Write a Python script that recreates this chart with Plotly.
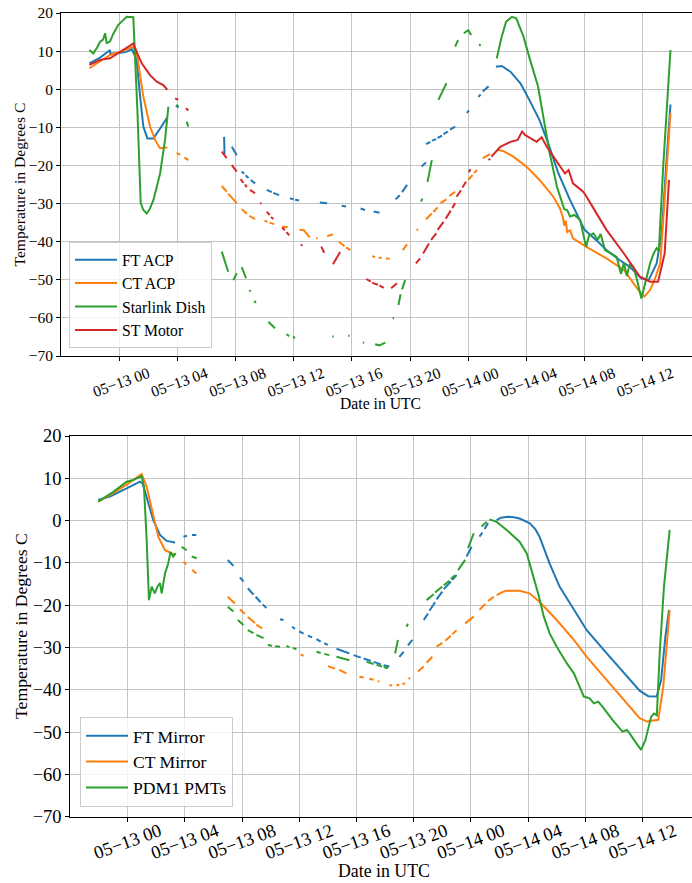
import pandas as pd
import plotly.graph_objects as go

N = None
BASE = pd.Timestamp("2023-05-13 00:00")

# ---------------- top panel data (hours after 05-13 00 UTC, degrees C) -------------
ft_acp_h = [-2.04, -1.3, -0.62, -0.6, 0.1, 0.5, 0.87, 1.2, 1.45, 1.67, 1.95, 2.36, 2.82, 3.32, N,
            3.9, 4.1, N, 7.22, 7.25, N, 7.75, 8.09, N, 8.43, 8.6, N, 8.7, 8.9, N, 9.05, 9.35, N,
            10.15, 10.5, N, 10.6, 11.0, N, 11.75, 12.0, N, 12.1, 12.37, N, 13.8, 14.3, N, 15.3, 15.6, N,
            16.6, 16.9, N, 17.5, 17.9, N, 19.0, 19.3, N, 19.45, 19.8, N, 20.8, 21.1, N,
            21.1, 21.4, N, 21.5, 21.8, N, 21.9, 22.2, N, 22.3, 22.6, N, 22.75, 23.1, N, 23.9, 24.05, N,
            24.7, 24.85, N, 25.0, 25.4, N,
            25.9, 26.3, 26.9, 27.6, 28.2, 28.9, 29.5, 30.2, 31.0, 31.7, 32.0, 32.8, 33.5, 34.4, 35.1,
            35.9, 36.4, 36.95, 37.3, 37.6, 37.9]
ft_acp_t = [6.8, 8.3, 10.3, 9.3, 9.6, 9.8, 10.5, 8.0, -2.0, -9.8, -12.9, -12.9, -10.3, -7.4, N,
            -4.3, -4.8, N, -12.5, -17.0, N, -15.1, -17.3, N, -21.6, -22.2, N, -22.6, -23.3, N, -23.8, -24.7, N,
            -26.4, -27.0, N, -27.2, -27.8, N, -28.6, -28.9, N, -29.0, -29.2, N, -29.7, -29.9, N, -30.6, -30.8, N,
            -31.3, -31.7, N, -32.1, -32.4, N, -28.9, -27.8, N, -27.0, -25.1, N, -20.3, -19.2, N,
            -14.4, -13.8, N, -13.5, -13.1, N, -12.8, -12.2, N, -11.8, -11.1, N, -10.6, -9.8, N, -6.2, -5.6, N,
            -2.0, -1.4, N, -0.6, 0.8, N,
            5.9, 6.1, 4.6, 1.5, -2.8, -8.1, -14.2, -22.1, -29.1, -34.3, -36.9, -39.6, -42.2, -44.8, -46.6,
            -49.6, -50.1, -45.7, -37.7, -20.3, -4.0]

ct_acp_h = [-2.04, -1.3, -0.62, 0.07, 0.6, 0.98, 1.26, 1.67, 2.13, 2.5, 2.82, 3.32, N,
            3.96, 4.2, N, 4.5, 4.76, N, 7.06, 7.4, N, 7.5, 8.09, N, 8.43, 8.8, N, 8.95, 9.35, N,
            10.0, 10.2, N, 10.35, 10.65, N, 11.2, 11.6, N, 12.4, 12.7, 13.1, N, 13.55, 13.65, N,
            14.3, 14.7, N, 15.1, 15.5, N, 15.6, 15.9, N, 17.4, 17.6, N, 17.85, 18.05, N, 18.35, 18.6, N,
            19.5, 19.8, N, 20.45, 20.55, N, 21.1, 21.5, N, 21.6, 21.9, N, 22.1, 22.5, N, 22.7, 23.1, N,
            24.0, 24.3, N, 24.4, 24.6, N, 25.0, 25.5, N,
            25.96, 26.4, 27.1, 28.0, 28.9, 29.85, 30.3, 30.5, 30.6, 30.7, 30.8, 31.0, 31.2, 32.1, 33.5,
            34.7, 35.7, 36.1, 36.5, 36.8, 37.2, 37.5, 37.9]
ct_acp_t = [5.5, 7.3, 9.0, 9.8, 10.5, 11.2, 8.5, -2.0, -9.8, -13.5, -15.5, -15.3, N,
            -16.7, -17.2, N, -17.9, -18.6, N, -25.4, -26.9, N, -27.4, -29.9, N, -31.5, -32.7, N, -33.2, -34.1, N,
            -34.5, -34.8, N, -35.0, -35.4, N, -36.1, -36.2, N, -36.9, -37.0, -38.9, N, -39.1, -39.1, N,
            -38.5, -38.1, N, -40.0, -41.2, N, -41.5, -42.2, N, -43.8, -44.0, N, -44.2, -44.3, N, -44.4, -44.5, N,
            -42.2, -40.7, N, -37.0, -36.7, N, -34.1, -32.6, N, -32.2, -31.0, N, -29.9, -28.9, N, -28.0, -26.9, N,
            -23.8, -22.5, N, -22.0, -21.2, N, -18.1, -17.0, N,
            -15.9, -16.2, -17.7, -20.3, -23.8, -28.2, -31.2, -33.5, -35.8, -34.5, -37.5, -37.0, -39.1, -41.3, -44.4,
            -47.4, -52.7, -54.4, -52.7, -50.1, -45.7, -29.1, -6.3]

starlink_h = [-2.04, -1.9, -1.77, -1.5, -1.3, -1.1, -0.96, -0.85, -0.62, -0.4, -0.27, -0.05, 0.3, 0.53,
              0.98, 1.1, 1.26, 1.49, 1.67, 1.9, 2.1, 2.36, 2.82, 3.16, 3.39, N,
              3.96, 4.07, N, 4.65, 4.76, N, 7.06, 7.5, N, 7.86, 8.09, N, 8.43, 8.73, N, 8.95, 9.05, N,
              9.3, 9.4, N, 10.26, 10.72, N, 11.5, 11.7, N, 11.95, 12.1, N, 14.65, 14.75, N, 15.75, 15.85, N,
              16.75, 16.85, N, 17.6, 17.9, 18.3, N, 18.8, 18.9, N, 19.2, 19.35, N, 19.45, 19.66, N,
              20.75, 20.85, N, 21.2, 21.5, N, 21.95, 22.5, N, 23.1, 23.3, N, 23.7, 24.0, 24.2, N,
              24.75, 24.85, N,
              25.96, 26.3, 26.6, 27.0, 27.3, 27.8, 28.25, 28.5, 28.8, 29.2, 29.6, 30.1, 30.4, 30.6, 30.8,
              31.0, 31.3, 31.7, 31.9, 32.1, 32.3, 32.6, 32.9, 33.1, 33.4, 33.8, 34.2, 34.5, 34.7, 34.9,
              35.1, 35.35, 35.6, 35.9, 36.15, 36.5, 36.75, 36.95, 37.1, 37.4, 37.9]
starlink_t = [10.3, 9.8, 9.4, 11.0, 12.5, 13.0, 14.7, 12.1, 12.5, 14.5, 15.5, 16.9, 18.2, 19.0,
              18.9, 10.0, -5.5, -29.9, -31.7, -32.6, -31.5, -29.1, -22.1, -13.3, -4.6, N,
              -4.0, -4.6, N, -8.5, -9.8, N, -42.6, -47.9, N, -50.1, -48.3, N, -46.7, -49.6, N, -52.7, -53.1, N,
              -55.5, -56.1, N, -61.0, -62.7, N, -64.3, -64.8, N, -65.0, -65.2, N, -64.9, -64.9, N, -64.7, -64.7, N,
              -66.5, -66.5, N, -66.9, -67.2, -66.5, N, -60.1, -60.1, N, -56.6, -53.8, N, -52.5, -50.1, N,
              -29.5, -28.7, N, -24.3, -18.6, N, -2.8, 1.6, N, 11.2, 12.9, N, 14.7, 15.5, 14.2, N,
              11.8, 11.4, N,
              8.1, 13.8, 17.7, 19.0, 18.6, 13.8, 7.7, 4.5, 0.7, -8.1, -16.8, -25.6, -29.0, -31.5, -31.7,
              -33.4, -33.0, -34.3, -38.0, -41.3, -38.5, -37.8, -39.5, -38.0, -42.2, -43.0, -44.0, -48.5, -45.5, -49.0,
              -46.0, -46.6, -50.0, -54.9, -50.9, -45.7, -43.0, -41.7, -42.5, -20.3, 10.3]

st_motor_h = [-2.04, -1.3, -0.62, 0.07, 0.6, 0.98, 1.3, 1.56, 2.13, 2.59, 3.04, 3.32, N,
              3.85, 4.07, N, 4.6, 4.76, N, 7.06, 7.4, N, 7.75, 8.09, N, 8.36, 8.55, N, 8.65, 8.78, N,
              9.0, 9.35, N, 9.7, 9.78, N, 10.15, 10.35, N, 10.45, 10.6, N, 11.2, 11.4, N, 11.5, 11.7, N,
              12.5, 12.6, N, 13.9, 14.1, N, 14.7, 15.2, N, 17.0, 17.3, N, 17.4, 17.8, N, 17.9, 18.2, N,
              18.7, 19.1, N, 20.4, 20.7, N, 20.9, 21.3, N, 21.45, 21.8, N, 21.9, 22.3, N, 22.45, 22.8, N,
              22.9, 23.1, N, 23.2, 23.5, N, 23.6, 23.85, N, 24.05, 24.15, N, 25.4, 25.5, N,
              25.6, 26.2, 26.9, 27.4, 27.7, 27.9, 28.7, 29.05, 29.4, 30.1, 30.65, 30.9, 31.2, 31.9, 32.1,
              32.6, 33.5, 34.7, 35.8, 36.5, 37.05, 37.5, 37.8]
st_motor_t = [6.4, 7.7, 8.1, 9.8, 11.0, 12.0, 9.0, 6.8, 3.7, 2.0, 1.1, -0.2, N,
              -2.4, -2.8, N, -5.0, -5.6, N, -16.4, -18.1, N, -19.9, -21.6, N, -23.6, -24.6, N, -25.0, -25.7, N,
              -26.4, -27.3, N, -29.8, -30.0, N, -32.1, -33.0, N, -33.5, -34.1, N, -36.3, -37.0, N, -37.5, -38.3, N,
              -40.7, -41.1, N, -41.3, -42.9, N, -45.9, -42.7, N, -49.8, -50.5, N, -50.8, -51.3, N, -51.5, -52.1, N,
              -52.2, -50.9, N, -45.7, -44.4, N, -43.1, -40.5, N, -39.5, -37.8, N, -36.9, -34.8, N, -34.0, -31.8, N,
              -31.2, -29.9, N, -28.2, -26.5, N, -25.8, -24.3, N, -21.8, -21.0, N, -18.6, -18.2, N,
              -17.7, -15.1, -13.8, -13.3, -11.1, -12.0, -13.8, -12.6, -15.1, -19.0, -22.1, -21.2, -24.7, -26.9, -28.0,
              -31.2, -36.9, -43.1, -49.2, -50.5, -50.5, -43.1, -23.8]

# ---------------- bottom panel data -------------
ft_mirror_h = [-2.06, -1.24, -0.07, 0.86, 1.05, 1.44, 1.79, 2.26, 2.73, 3.31, N,
               3.9, 4.15, N, 4.5, 4.8, N, 7.0, 7.4, N, 7.85, 8.1, N, 8.4, 8.8, N, 8.95, 9.3, N, 9.45, 9.7, N,
               10.65, 10.9, N, 11.5, 11.7, N, 12.0, 12.3, N, 12.6, 12.9, N, 13.2, 13.5, N, 13.75, 14.0, N,
               14.6, 15.5, N, 15.8, 16.3, N, 16.5, 17.0, N, 17.2, 17.7, N, 17.9, 18.3, N,
               19.0, 19.3, N, 19.6, 19.9, N, 20.7, 21.0, N, 21.1, 21.5, N, 21.6, 22.0, N, 22.1, 22.6, N,
               22.7, 23.0, N, 23.7, 24.05, N, 24.6, 24.8, N, 24.95, 25.2, N,
               25.8, 26.1, 26.6, 27.0, 27.4, 28.1, 28.5, 28.8, 29.1, 29.5, 30.2, 31.2, 32.1, 33.5, 34.9,
               35.8, 36.4, 36.99, 37.3, 37.6, 37.85]
ft_mirror_t = [4.9, 5.7, 7.6, 9.2, 8.8, 4.1, 0.1, -3.4, -4.8, -5.2, N,
               -3.8, -3.6, N, -3.4, -3.4, N, -9.3, -10.7, N, -13.4, -14.4, N, -16.0, -17.5, N, -18.0, -19.3, N, -19.8, -20.7, N,
               -23.3, -23.5, N, -25.1, -25.6, N, -26.2, -26.7, N, -27.2, -27.6, N, -28.0, -28.6, N, -29.0, -29.4, N,
               -30.3, -31.4, N, -31.8, -32.4, N, -32.6, -33.2, N, -33.4, -34.0, N, -34.2, -34.5, N,
               -32.2, -31.0, N, -29.5, -28.2, N, -23.5, -22.0, N, -21.3, -19.3, N, -18.6, -16.8, N, -16.2, -14.4, N,
               -14.0, -12.9, N, -8.5, -6.2, N, -3.8, -2.8, N, -2.0, -0.6, N,
               0.1, 0.7, 0.9, 0.8, 0.5, -0.6, -2.0, -3.8, -6.5, -10.1, -15.6, -21.1, -25.9, -31.4, -36.9,
               -40.2, -41.5, -41.6, -37.7, -27.4, -21.1]

ct_mirror_h = [-2.06, -1.0, 0.05, 0.5, 0.98, 1.33, 1.79, 2.14, 2.61, 3.31, N,
               3.9, 4.1, N, 4.5, 4.8, N, 7.0, 7.5, N, 7.85, 8.2, N, 8.4, 8.9, N, 9.0, 9.4, N,
               12.1, 12.3, N, 14.0, 14.5, N, 14.8, 15.3, N, 16.2, 16.5, N, 16.9, 17.2, N, 17.5, 17.6, N,
               18.3, 18.5, N, 18.8, 19.0, N, 19.2, 19.4, N, 19.65, 19.75, N, 20.3, 20.7, N, 20.9, 21.3, N,
               21.6, 22.0, N, 22.2, 22.6, N, 22.7, 23.0, N, 23.6, 24.2, N, 24.6, 25.0, N, 25.2, 25.6, N,
               25.8, 26.2, 26.5, 27.4, 28.1, 28.8, 30.0, 31.2, 32.1, 33.5, 34.9, 35.8, 36.3, 37.1, 37.45,
               37.7, 37.9]
ct_mirror_t = [4.5, 6.5, 8.8, 9.8, 11.0, 8.0, 0.9, -3.8, -7.0, -8.1, N,
               -9.7, -10.3, N, -11.6, -12.5, N, -18.0, -19.6, N, -21.0, -22.0, N, -22.8, -24.2, N, -24.6, -25.5, N,
               -31.6, -32.0, N, -34.4, -35.0, N, -35.3, -36.1, N, -36.9, -37.1, N, -37.4, -37.6, N, -37.9, -38.1, N,
               -38.9, -39.0, N, -38.9, -38.8, N, -38.6, -38.5, N, -37.5, -37.1, N, -35.7, -34.5, N, -33.6, -32.2, N,
               -29.8, -28.9, N, -28.4, -27.2, N, -26.9, -25.9, N, -24.3, -22.7, N, -21.1, -19.7, N, -19.0, -18.0, N,
               -17.6, -16.9, -16.6, -16.6, -17.2, -19.2, -23.5, -28.2, -32.2, -37.7, -43.2, -46.7, -47.5, -47.1, -39.3,
               -29.8, -21.1]

pdm1_h = [-2.06, -1.0, -0.07, 0.39, 0.98, 1.14, 1.33, 1.49, 1.68, 1.9, 2.1, 2.26, 2.38, 2.61, 2.84,
          3.0, 3.19, 3.36, N, 3.78, 4.13, N, 4.48, 4.83, N, 7.0, 7.4, N, 7.7, 8.1, N, 8.4, 8.8, N,
          9.0, 9.5, N, 9.8, 10.1, N, 10.3, 10.65, N, 11.1, 11.3, N, 11.55, 11.8, N, 13.2, 13.5, N,
          13.75, 14.1, N, 14.6, 15.5, N, 16.7, 17.2, N, 17.4, 17.8, N, 17.9, 18.2, N, 18.7, 18.9, N,
          19.5, 19.6, N, 20.9, 21.4, N, 21.5, 22.0, N, 22.1, 22.5, N, 22.6, 22.9, N, 23.1, 23.6, N,
          23.8, 24.2, N, 24.75, 25.1, N,
          25.3, 25.8, 26.5, 27.0, 27.4, 27.9, 28.25, 28.7, 29.1, 29.5, 30.0, 30.4, 30.7, 31.2, 31.6,
          31.9, 32.3, 32.6, 32.9, 33.2, 33.9, 34.3, 34.6, 34.9, 35.1, 35.5, 35.9, 36.2, 36.6, 36.8,
          37.0, 37.2, 37.5, 37.9]
pdm1_t = [4.5, 6.8, 9.2, 9.6, 10.5, 8.0, -4.6, -18.8, -15.6, -17.2, -15.5, -14.8, -17.2, -12.5, -10.1,
          -7.4, -8.5, -7.7, N, -6.2, -7.0, N, -8.5, -8.9, N, -20.4, -21.5, N, -23.5, -24.7, N, -25.9, -26.6, N,
          -27.0, -27.8, N, -29.4, -29.6, N, -29.7, -29.8, N, -29.6, -29.9, N, -30.1, -30.4, N, -31.0, -31.3, N,
          -31.5, -31.8, N, -32.2, -33.0, N, -33.4, -33.9, N, -34.1, -34.5, N, -34.6, -34.9, N, -31.4, -28.2, N,
          -25.1, -24.4, N, -18.8, -17.4, N, -17.0, -15.6, N, -15.3, -14.2, N, -13.8, -12.9, N, -11.7, -9.3, N,
          -6.5, -3.0, N, -1.4, -0.3, N,
          0.3, -0.3, -2.2, -3.8, -5.0, -7.7, -11.7, -17.2, -22.7, -26.6, -29.8, -32.0, -33.7, -36.1, -39.3,
          -41.6, -42.0, -43.2, -42.8, -44.0, -47.1, -48.8, -49.9, -49.5, -50.3, -52.3, -54.2, -51.9, -46.4, -45.6,
          -46.0, -31.4, -15.6, -2.2]

y_ticks = [-70, -60, -50, -40, -30, -20, -10, 0, 10, 20]
y_tick_text = ["\u221270", "\u221260", "\u221250", "\u221240", "\u221230",
               "\u221220", "\u221210", "0", "10", "20"]
x_tick_hours = [0, 4, 8, 12, 16, 20, 24, 28, 32, 36]

top_series = [("FT ACP", ft_acp_h, ft_acp_t, "#1f77b4"),
              ("CT ACP", ct_acp_h, ct_acp_t, "#ff7f0e"),
              ("Starlink Dish", starlink_h, starlink_t, "#2ca02c"),
              ("ST Motor", st_motor_h, st_motor_t, "#d62728")]
bottom_series = [("FT Mirror", ft_mirror_h, ft_mirror_t, "#1f77b4"),
                 ("CT Mirror", ct_mirror_h, ct_mirror_t, "#ff7f0e"),
                 ("PDM1 PMTs", pdm1_h, pdm1_t, "#2ca02c")]


def to_time(hours):
    return [None if h is None else BASE + pd.Timedelta(hours=h) for h in hours]


FONT = "Liberation Serif"
W, H = 692, 883

fig = go.Figure()
for name, hh, tt, col in top_series:
    fig.add_trace(go.Scatter(x=to_time(hh), y=tt, mode="lines", name=name,
                             line=dict(color=col, width=2), connectgaps=False,
                             xaxis="x", yaxis="y", legend="legend"))
for name, hh, tt, col in bottom_series:
    fig.add_trace(go.Scatter(x=to_time(hh), y=tt, mode="lines", name=name,
                             line=dict(color=col, width=2), connectgaps=False,
                             xaxis="x2", yaxis="y2", legend="legend2"))


def xaxis_cfg(domain, anchor, r0, r1, fsize, shift, standoff):
    return dict(domain=domain, anchor=anchor, type="date",
                range=[BASE + pd.Timedelta(hours=r0), BASE + pd.Timedelta(hours=r1)],
                tickmode="array", tickvals=to_time(x_tick_hours), tickformat="%m\u2212%d %H",
                tickangle=-20, ticklabelshift=shift, ticklabelstandoff=standoff,
                ticks="outside", ticklen=4, tickcolor="black",
                showline=True, linecolor="black", linewidth=1, mirror=True,
                showgrid=True, gridcolor="#c4c4c4", gridwidth=1, zeroline=False,
                tickfont=dict(family=FONT, size=fsize, color="black"), automargin=False)


def yaxis_cfg(domain, anchor, fsize):
    return dict(domain=domain, anchor=anchor, range=[-70, 20], tickmode="array",
                tickvals=y_ticks, ticktext=y_tick_text,
                ticks="outside", ticklen=4, tickcolor="black",
                showline=True, linecolor="black", linewidth=1, mirror=False,
                showgrid=True, gridcolor="#c4c4c4", gridwidth=1, zeroline=False,
                tickfont=dict(family=FONT, size=fsize, color="black"), automargin=False)


def ann(text, x, y, size, angle=0):
    return dict(text=text, x=x, y=y, xref="paper", yref="paper", xanchor="center",
                yanchor="middle", textangle=angle, showarrow=False,
                font=dict(family=FONT, size=size, color="black"))


fig.update_layout(
    width=W, height=H, margin=dict(l=0, r=0, t=0, b=0),
    paper_bgcolor="white", plot_bgcolor="white",
    font=dict(family=FONT, color="black"),
    xaxis=xaxis_cfg([61 / W, 1.0], "y", -3.99, 39.38, 15.5, 29, -2),
    yaxis=yaxis_cfg([1 - 356 / H, 1 - 13 / H], "x", 15.5),
    xaxis2=xaxis_cfg([70.3 / W, 1.0], "y2", -4.01, 39.46, 18.5, 32, -8),
    yaxis2=yaxis_cfg([1 - 816.7 / H, 1 - 436 / H], "x2", 18.5),
    legend=dict(x=69 / W, y=1 - 348 / H, xanchor="left", yanchor="bottom",
                bgcolor="rgba(255,255,255,0.8)", bordercolor="#cccccc", borderwidth=1,
                font=dict(family=FONT, size=15.7, color="black"), itemwidth=42),
    legend2=dict(x=80 / W, y=1 - 806.7 / H, xanchor="left", yanchor="bottom",
                 bgcolor="rgba(255,255,255,0.8)", bordercolor="#cccccc", borderwidth=1,
                 font=dict(family=FONT, size=17.6, color="black"), itemwidth=42),
    annotations=[
        ann("Temperature in Degrees C", 19 / W, 1 - 184.5 / H, 15.6, -90),
        ann("Date in UTC", 380 / W, 1 - 403 / H, 15.7),
        ann("Temperature in Degrees C", 20.5 / W, 1 - 626.5 / H, 17.7, -90),
        ann("Date in UTC", 384 / W, 1 - 871 / H, 17.8),
    ],
)

fig.write_html("out.html")
